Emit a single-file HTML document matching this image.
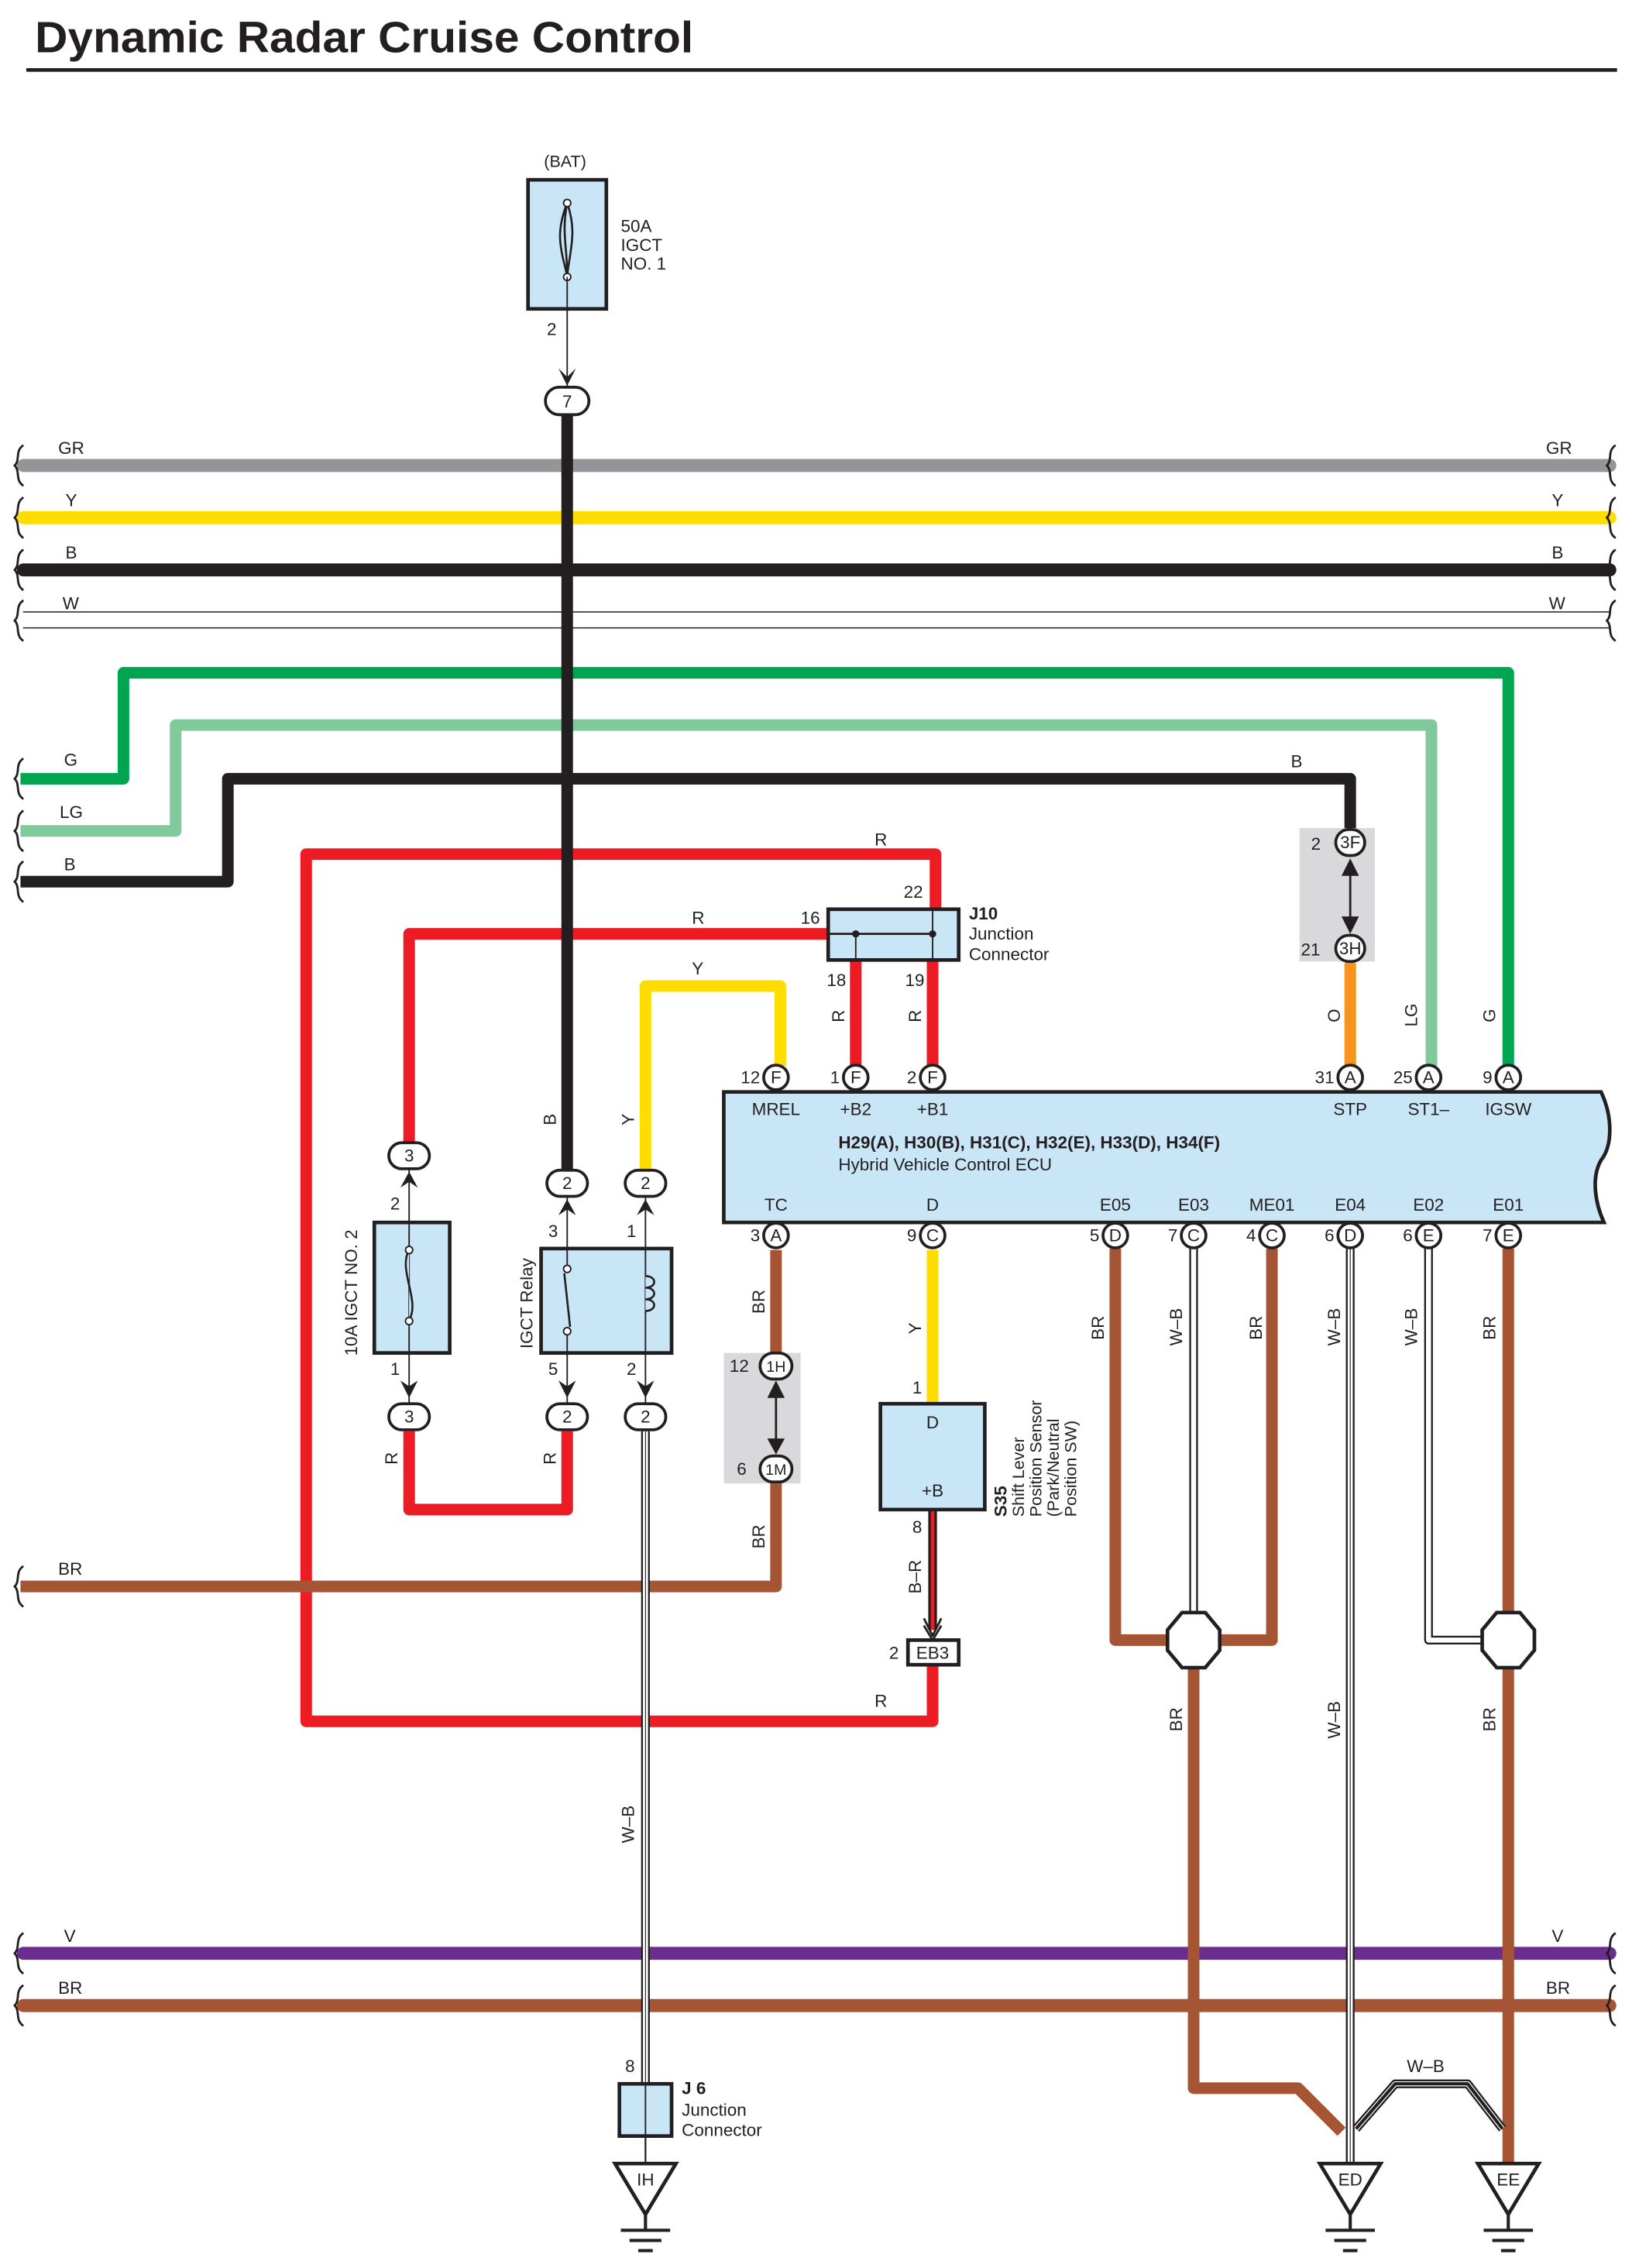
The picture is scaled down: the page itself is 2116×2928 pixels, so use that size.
<!DOCTYPE html>
<html><head><meta charset="utf-8"><style>
html,body{margin:0;padding:0;background:#fff}
svg{display:block}
text{font-family:"Liberation Sans",sans-serif;font-size:12px;fill:#231f20}
</style></head><body>
<svg width="2116" height="2928" viewBox="0 0 1130 1564" xmlns="http://www.w3.org/2000/svg">
<defs>
<g id="sq"><path d="M4,-14 C-2,-10 2,-4 -2,0 C2,4 -2,10 4,14" fill="none" stroke="#231f20" stroke-width="1.5"/></g>
</defs>
<rect width="1130" height="1564" fill="#fff"/>
<text x="24" y="36" textLength="454" lengthAdjust="spacingAndGlyphs" style="font-size:30px;font-weight:bold">Dynamic Radar Cruise Control</text>
<rect x="18" y="47" width="1097" height="2.5" fill="#231f20"/>

<g stroke-linecap="round">
<line x1="16" y1="321" x2="1110" y2="321" stroke="#939598" stroke-width="9"/>
<line x1="16" y1="357" x2="1110" y2="357" stroke="#ffdd00" stroke-width="9"/>
<line x1="16" y1="393" x2="1110" y2="393" stroke="#231f20" stroke-width="9"/>
<line x1="16" y1="422" x2="1110" y2="422" stroke="#231f20" stroke-width="0.8"/>
<line x1="16" y1="433" x2="1110" y2="433" stroke="#231f20" stroke-width="0.8"/>
<line x1="16" y1="1347" x2="1110" y2="1347" stroke="#6b2d8e" stroke-width="9"/>
<line x1="16" y1="1383" x2="1110" y2="1383" stroke="#a65534" stroke-width="9"/>
</g>
<g>
<use href="#sq" x="12" y="321"/><use href="#sq" x="12" y="357"/><use href="#sq" x="12" y="393"/><use href="#sq" x="12" y="428"/>
<use href="#sq" x="1110" y="321"/><use href="#sq" x="1110" y="357"/><use href="#sq" x="1110" y="393"/><use href="#sq" x="1110" y="428"/>
<use href="#sq" x="12" y="537"/><use href="#sq" x="12" y="573"/><use href="#sq" x="12" y="608"/>
<use href="#sq" x="12" y="1094"/>
<use href="#sq" x="12" y="1347"/><use href="#sq" x="12" y="1383"/><use href="#sq" x="1110" y="1347"/><use href="#sq" x="1110" y="1383"/>
</g>
<text x="40" y="313">GR</text><text x="45" y="349">Y</text><text x="45" y="385">B</text><text x="43" y="420">W</text>
<text x="1066" y="313">GR</text><text x="1070" y="349">Y</text><text x="1070" y="385">B</text><text x="1068" y="420">W</text>
<text x="44" y="528">G</text><text x="41" y="564">LG</text><text x="44" y="600">B</text>
<text x="40" y="1086">BR</text>
<text x="44" y="1339">V</text><text x="40" y="1375">BR</text>
<text x="1070" y="1339">V</text><text x="1066" y="1375">BR</text>

<g fill="none" stroke-width="8" stroke-linejoin="round">
<polyline points="14,537 85,537 85,464 1040,464 1040,735" stroke="#00a551"/>
<polyline points="14,573 121,573 121,500 987,500 987,735" stroke="#80c99b"/>
<polyline points="14,608 157,608 157,537 931,537 931,572" stroke="#231f20"/>
<polyline points="645,626 645,589 211,589 211,1187 643,1187 643,1148" stroke="#ed1c24"/>
<polyline points="571,644 282,644 282,788" stroke="#ed1c24"/>
<line x1="590" y1="662" x2="590" y2="735" stroke="#ed1c24"/>
<line x1="643" y1="662" x2="643" y2="735" stroke="#ed1c24"/>
<polyline points="445,807 445,680 538,680 538,735" stroke="#ffdd00"/>
<line x1="931" y1="664" x2="931" y2="735" stroke="#f7941d"/>
<line x1="391" y1="286" x2="391" y2="808" stroke="#231f20"/>
<polyline points="282,987 282,1041 391,1041 391,987" stroke="#ed1c24"/>
<polyline points="14,1094 535,1094 535,1022" stroke="#a65534"/>
<line x1="535" y1="862" x2="535" y2="933" stroke="#a65534"/>
<line x1="643" y1="862" x2="643" y2="968" stroke="#ffdd00"/>
<polyline points="769,861 769,1131 877,1131 877,861" stroke="#a65534"/>
<polyline points="823,1150 823,1440 895,1440 925,1470" stroke="#a65534"/>
<line x1="1040" y1="861" x2="1040" y2="1112" stroke="#a65534"/>
<line x1="1040" y1="1150" x2="1040" y2="1492" stroke="#a65534"/>
</g>

<g fill="none" stroke-linejoin="round">
<g stroke="#231f20" stroke-width="6">
<line x1="445" y1="987" x2="445" y2="1437"/>
<line x1="823" y1="861" x2="823" y2="1112"/>
<line x1="931" y1="861" x2="931" y2="1492"/>
<polyline points="985,861 985,1131 1022,1131"/>
<polyline points="935,1468 962,1437 1012,1437 1036,1468"/>
</g>
<g stroke="#fff" stroke-width="3.5">
<line x1="445" y1="987" x2="445" y2="1437"/>
<line x1="823" y1="861" x2="823" y2="1112"/>
<line x1="931" y1="861" x2="931" y2="1492"/>
<polyline points="985,861 985,1131 1022,1131"/>
<polyline points="935,1468 962,1437 1012,1437 1036,1468"/>
</g>
<line x1="445" y1="987" x2="445" y2="1437" stroke="#231f20" stroke-width="0.6"/>
<line x1="931" y1="861" x2="931" y2="1492" stroke="#231f20" stroke-width="0.6"/>
<polyline points="935,1468 962,1437 1012,1437 1036,1468" stroke="#231f20" stroke-width="2.2"/>
<line x1="643" y1="1041" x2="643" y2="1124" stroke="#231f20" stroke-width="6"/>
<line x1="643" y1="1041" x2="643" y2="1124" stroke="#ed1c24" stroke-width="2.5"/>
<polyline points="637,1116 643,1128 649,1116" stroke="#231f20" stroke-width="1.5"/>
<polyline points="637,1121 643,1131 649,1121" stroke="#231f20" stroke-width="1.5"/>
</g>

<text x="375" y="115" style="font-size:11.5px">(BAT)</text>
<rect x="364" y="124" width="54" height="89" fill="#c9e6f7" stroke="#231f20" stroke-width="2.5"/>
<path d="M391,140 C383,160 386,170 391,190 M391,140 C398,160 393,172 391,190 M391,140 C387,160 391,170 391,190" fill="none" stroke="#231f20" stroke-width="1.4"/>
<circle cx="391" cy="140" r="2.5" fill="#fff" stroke="#231f20"/><circle cx="391" cy="191" r="2.5" fill="#fff" stroke="#231f20"/>
<line x1="391" y1="191" x2="391" y2="268" stroke="#231f20" stroke-width="1"/>
<text x="428" y="160">50A</text><text x="428" y="173">IGCT</text><text x="428" y="186">NO. 1</text>
<text x="377" y="231">2</text>
<path d="M385,254 L391,266 L397,254 L391,260 Z" fill="#231f20"/>

<rect x="571" y="627" width="90" height="35" fill="#c9e6f7" stroke="#231f20" stroke-width="2.5"/>
<line x1="571" y1="644" x2="645" y2="644" stroke="#231f20" stroke-width="1.5"/>
<line x1="590" y1="644" x2="590" y2="662" stroke="#231f20" stroke-width="1"/>
<line x1="643" y1="627" x2="643" y2="662" stroke="#231f20" stroke-width="1"/>
<circle cx="590" cy="644" r="2.5" fill="#231f20"/><circle cx="643" cy="644" r="2.5" fill="#231f20"/>
<text x="668" y="634" style="font-weight:bold">J10</text><text x="668" y="648">Junction</text><text x="668" y="662">Connector</text>
<text x="552" y="637">16</text><text x="623" y="619">22</text><text x="570" y="680">18</text><text x="624" y="680">19</text>
<text x="603" y="583">R</text><text x="477" y="637">R</text><text x="477" y="672">Y</text><text x="890" y="529">B</text>
<text x="603" y="1177">R</text>

<rect x="896" y="571" width="52" height="92" fill="#d9d9db"/>
<line x1="931" y1="595" x2="931" y2="640" stroke="#231f20" stroke-width="1.5"/>
<path d="M925,604 L931,592 L937,604 Z M925,632 L931,644 L937,632 Z" fill="#231f20"/>
<text x="904" y="586">2</text><text x="897" y="659">21</text>

<path d="M499,753 L1104,753 C1112,770 1112,790 1104,800 C1097,812 1100,830 1106,843 L499,843 Z" fill="#c9e6f7" stroke="#231f20" stroke-width="2.5"/>
<g text-anchor="middle">
<text x="535" y="769">MREL</text><text x="590" y="769">+B2</text><text x="643" y="769">+B1</text>
<text x="931" y="769">STP</text><text x="985" y="769">ST1–</text><text x="1040" y="769">IGSW</text>
<text x="535" y="835">TC</text><text x="643" y="835">D</text><text x="769" y="835">E05</text><text x="823" y="835">E03</text>
<text x="877" y="835">ME01</text><text x="931" y="835">E04</text><text x="985" y="835">E02</text><text x="1040" y="835">E01</text>
</g>
<text x="578" y="792" style="font-weight:bold">H29(A), H30(B), H31(C), H32(E), H33(D), H34(F)</text>
<text x="578" y="807">Hybrid Vehicle Control ECU</text>

<g stroke="#231f20" stroke-width="2" fill="#fff">
<circle cx="535" cy="743" r="8.5"/><circle cx="590" cy="743" r="8.5"/><circle cx="643" cy="743" r="8.5"/>
<circle cx="931" cy="743" r="8.5"/><circle cx="985" cy="743" r="8.5"/><circle cx="1040" cy="743" r="8.5"/>
<circle cx="535" cy="852" r="8.5"/><circle cx="643" cy="852" r="8.5"/><circle cx="769" cy="852" r="8.5"/><circle cx="823" cy="852" r="8.5"/>
<circle cx="877" cy="852" r="8.5"/><circle cx="931" cy="852" r="8.5"/><circle cx="985" cy="852" r="8.5"/><circle cx="1040" cy="852" r="8.5"/>
<rect x="921" y="572" width="20" height="18" rx="9"/><rect x="921" y="645" width="20" height="18" rx="9"/>
<rect x="376" y="267" width="30" height="19" rx="9.5"/>
<rect x="268" y="788" width="28" height="18" rx="9"/><rect x="268" y="968" width="28" height="18" rx="9"/>
<rect x="377" y="807" width="28" height="18" rx="9"/><rect x="431" y="807" width="28" height="18" rx="9"/>
<rect x="377" y="968" width="28" height="18" rx="9"/><rect x="431" y="968" width="28" height="18" rx="9"/>
</g>
<g text-anchor="middle" style="font-size:10.5px">
<text x="535" y="747">F</text><text x="590" y="747">F</text><text x="643" y="747">F</text>
<text x="931" y="747">A</text><text x="985" y="747">A</text><text x="1040" y="747">A</text>
<text x="535" y="856">A</text><text x="643" y="856">C</text><text x="769" y="856">D</text><text x="823" y="856">C</text>
<text x="877" y="856">C</text><text x="931" y="856">D</text><text x="985" y="856">E</text><text x="1040" y="856">E</text>
<text x="931" y="585">3F</text><text x="931" y="658">3H</text>
<text x="391" y="281">7</text><text x="282" y="801">3</text><text x="282" y="981">3</text>
<text x="391" y="820">2</text><text x="445" y="820">2</text><text x="391" y="981">2</text><text x="445" y="981">2</text>
</g>
<g text-anchor="end">
<text x="524" y="747">12</text><text x="579" y="747">1</text><text x="632" y="747">2</text>
<text x="920" y="747">31</text><text x="974" y="747">25</text><text x="1029" y="747">9</text>
<text x="524" y="856">3</text><text x="632" y="856">9</text><text x="758" y="856">5</text><text x="812" y="856">7</text>
<text x="866" y="856">4</text><text x="920" y="856">6</text><text x="974" y="856">6</text><text x="1029" y="856">7</text>
</g>

<rect x="499" y="933" width="53" height="90" fill="#d9d9db"/>
<rect x="524" y="933" width="22" height="18" rx="9" fill="#fff" stroke="#231f20" stroke-width="2"/>
<rect x="524" y="1004" width="22" height="18" rx="9" fill="#fff" stroke="#231f20" stroke-width="2"/>
<text x="535" y="946" text-anchor="middle" style="font-size:10.5px">1H</text><text x="535" y="1017" text-anchor="middle" style="font-size:10.5px">1M</text>
<line x1="535" y1="955" x2="535" y2="1000" stroke="#231f20" stroke-width="1.5"/>
<path d="M529,964 L535,952 L541,964 Z M529,992 L535,1003 L541,992 Z" fill="#231f20"/>
<text x="503" y="946">12</text><text x="508" y="1017">6</text>

<rect x="258" y="843" width="52" height="90" fill="#c9e6f7" stroke="#231f20" stroke-width="2.5"/>
<line x1="282" y1="806" x2="282" y2="968" stroke="#231f20" stroke-width="1"/>
<path d="M282,862 C274,875 290,898 282,910" fill="#c9e6f7" stroke="#231f20" stroke-width="1.4"/>
<circle cx="282" cy="862" r="2.5" fill="#fff" stroke="#231f20"/><circle cx="282" cy="911" r="2.5" fill="#fff" stroke="#231f20"/>
<path d="M276,819 L282,808 L288,819 L282,815 Z M276,952 L282,964 L288,952 L282,956 Z" fill="#231f20"/>
<text x="269" y="834">2</text><text x="269" y="948">1</text>
<text transform="translate(246,935) rotate(-90)">10A IGCT NO. 2</text>

<rect x="373" y="861" width="90" height="72" fill="#c9e6f7" stroke="#231f20" stroke-width="2.5"/>
<line x1="391" y1="825" x2="391" y2="968" stroke="#231f20" stroke-width="1"/>
<line x1="445" y1="825" x2="445" y2="968" stroke="#231f20" stroke-width="1"/>
<rect x="387" y="872" width="8" height="48" fill="#c9e6f7"/>
<circle cx="391" cy="875" r="2.5" fill="#fff" stroke="#231f20"/><circle cx="391" cy="918" r="2.5" fill="#fff" stroke="#231f20"/>
<line x1="389" y1="878" x2="393" y2="915" stroke="#231f20" stroke-width="1.4"/>
<path d="M445,880 c8,0 8,8 0,8 c8,0 8,8 0,8 c8,0 8,8 0,8" fill="#c9e6f7" stroke="#231f20" stroke-width="1.4"/>
<path d="M385,838 L391,827 L397,838 L391,834 Z M439,838 L445,827 L451,838 L445,834 Z M385,952 L391,964 L397,952 L391,956 Z M439,952 L445,964 L451,952 L445,956 Z" fill="#231f20"/>
<text x="378" y="853">3</text><text x="432" y="853">1</text><text x="378" y="948">5</text><text x="432" y="948">2</text>
<text transform="translate(367,930) rotate(-90)">IGCT Relay</text>

<rect x="607" y="968" width="72" height="73" fill="#c9e6f7" stroke="#231f20" stroke-width="2.5"/>
<text x="643" y="985" text-anchor="middle">D</text><text x="643" y="1032" text-anchor="middle">+B</text>
<text x="629" y="961">1</text><text x="629" y="1057">8</text>
<g transform="translate(694,1046) rotate(-90)">
<text x="0" y="0" style="font-weight:bold">S35</text>
<text x="0" y="12" style="font-size:11.5px">Shift Lever</text>
<text x="0" y="24" style="font-size:11.5px">Position Sensor</text>
<text x="0" y="36" style="font-size:11.5px">(Park/Neutral</text>
<text x="0" y="48" style="font-size:11.5px">Position SW)</text>
</g>
<rect x="626" y="1131" width="35" height="17" fill="#fff" stroke="#231f20" stroke-width="2.5"/>
<text x="643" y="1144" text-anchor="middle">EB3</text><text x="613" y="1144">2</text>

<g fill="#fff" stroke="#231f20" stroke-width="2.5">
<path d="M815,1112 L831,1112 L841,1124 L841,1138 L831,1150 L815,1150 L805,1138 L805,1124 Z"/>
<path d="M1032,1112 L1048,1112 L1058,1124 L1058,1138 L1048,1150 L1032,1150 L1022,1138 L1022,1124 Z"/>
</g>

<rect x="427" y="1437" width="36" height="36" fill="#c9e6f7" stroke="#231f20" stroke-width="2.5"/>
<line x1="445" y1="1437" x2="445" y2="1473" stroke="#231f20" stroke-width="1"/>
<line x1="445" y1="1473" x2="445" y2="1492" stroke="#231f20" stroke-width="1.2"/>
<text x="431" y="1429">8</text>
<text x="470" y="1444" style="font-weight:bold">J 6</text><text x="470" y="1459">Junction</text><text x="470" y="1473">Connector</text>

<g stroke="#231f20" fill="#fff">
<path d="M424,1492 L466,1492 L445,1527 Z" stroke-width="2.5"/>
<path d="M910,1492 L952,1492 L931,1527 Z" stroke-width="2.5"/>
<path d="M1019,1492 L1061,1492 L1040,1527 Z" stroke-width="2.5"/>
<g stroke-width="2.2">
<line x1="445" y1="1527" x2="445" y2="1537"/><line x1="428" y1="1538" x2="462" y2="1538"/><line x1="434" y1="1545" x2="456" y2="1545"/><line x1="440" y1="1552" x2="450" y2="1552"/>
<line x1="931" y1="1527" x2="931" y2="1537"/><line x1="914" y1="1538" x2="948" y2="1538"/><line x1="920" y1="1545" x2="942" y2="1545"/><line x1="926" y1="1552" x2="936" y2="1552"/>
<line x1="1040" y1="1527" x2="1040" y2="1537"/><line x1="1023" y1="1538" x2="1057" y2="1538"/><line x1="1029" y1="1545" x2="1051" y2="1545"/><line x1="1035" y1="1552" x2="1045" y2="1552"/>
</g>
</g>
<g text-anchor="middle" style="font-size:11.5px">
<text x="445" y="1507">IH</text><text x="931" y="1507">ED</text><text x="1040" y="1507">EE</text>
</g>
<text x="970" y="1429">W–B</text>

<g style="font-size:11.5px">
<text transform="translate(383,776) rotate(-90)">B</text>
<text transform="translate(437,776) rotate(-90)">Y</text>
<text transform="translate(274,1010) rotate(-90)">R</text>
<text transform="translate(383,1010) rotate(-90)">R</text>
<text transform="translate(582,705) rotate(-90)">R</text>
<text transform="translate(635,705) rotate(-90)">R</text>
<text transform="translate(924,705) rotate(-90)">O</text>
<text transform="translate(977,708) rotate(-90)">LG</text>
<text transform="translate(1031,705) rotate(-90)">G</text>
<text transform="translate(527,906) rotate(-90)">BR</text>
<text transform="translate(527,1068) rotate(-90)">BR</text>
<text transform="translate(635,920) rotate(-90)">Y</text>
<text transform="translate(761,924) rotate(-90)">BR</text>
<text transform="translate(815,928) rotate(-90)">W–B</text>
<text transform="translate(870,924) rotate(-90)">BR</text>
<text transform="translate(924,928) rotate(-90)">W–B</text>
<text transform="translate(977,928) rotate(-90)">W–B</text>
<text transform="translate(1031,924) rotate(-90)">BR</text>
<text transform="translate(815,1194) rotate(-90)">BR</text>
<text transform="translate(924,1199) rotate(-90)">W–B</text>
<text transform="translate(1031,1194) rotate(-90)">BR</text>
<text transform="translate(437,1271) rotate(-90)">W–B</text>
<text transform="translate(635,1099) rotate(-90)">B–R</text>
</g>
</svg>
</body></html>
